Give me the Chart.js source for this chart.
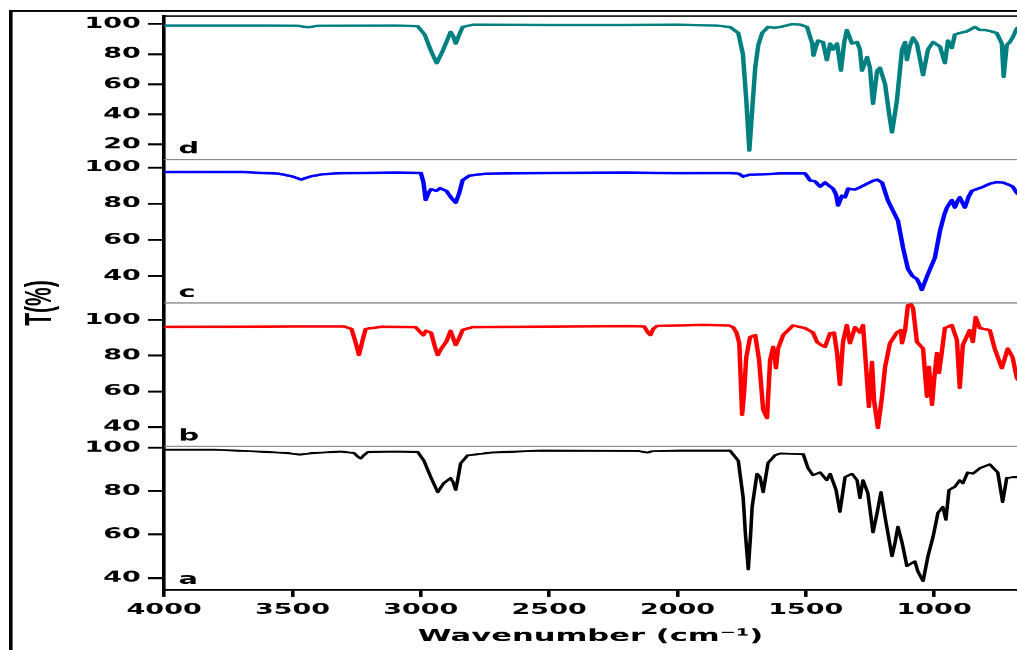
<!DOCTYPE html>
<html>
<head>
<meta charset="utf-8">
<script src="https://cdn.jsdelivr.net/npm/chart.js@4/dist/chart.umd.min.js"></script>
<style>
  html, body { margin: 0; padding: 0; background: #fff; overflow: hidden; }
</style>
</head>
<body>
<!-- the original figure is stretched sideways, so the canvas is drawn narrow and widened -->
<canvas id="ftir" width="565" height="650" style="display:block;width:1017px;height:650px"></canvas>
<script>
// FTIR spectra, wavenumber (cm-1) and transmittance (%)
var waveA = [4000, 3800, 3600, 3520, 3472, 3420, 3311, 3260, 3245, 3234, 3222, 3206, 3100, 3012, 2988, 2961, 2934, 2911, 2895, 2884, 2874, 2864, 2855, 2845, 2818, 2728, 2533, 2300, 2150, 2117, 2100, 1989, 1795, 1763, 1744, 1735, 1724, 1715, 1709, 1690, 1678, 1666, 1647, 1635, 1620, 1600, 1510, 1491, 1472, 1444, 1418, 1405, 1382, 1367, 1347, 1320, 1300, 1289, 1277, 1258, 1238, 1222, 1207, 1191, 1164, 1152, 1141, 1125, 1106, 1075, 1063, 1043, 1024, 1004, 985, 966, 954, 942, 919, 900, 888, 869, 849, 822, 783, 752, 733, 717, 694, 678, 670];
var transA = [99, 99, 98, 97.5, 96.8, 97.5, 98.2, 97.5, 95.8, 95, 96.5, 98, 98.2, 98, 94, 86.4, 79.5, 83.6, 85, 86, 84, 80.5, 86, 92.7, 96.4, 97.7, 98.6, 98.5, 98.4, 97.7, 98.3, 98.6, 98.6, 94, 77, 60, 44, 60, 72.7, 88, 86.4, 79.5, 93, 94.5, 96.5, 97.3, 97, 90.5, 87.3, 88.6, 85, 88, 80.5, 70.5, 86.4, 88, 85, 76.8, 85, 79, 61, 70, 79.5, 68, 50, 56.4, 63.6, 56.4, 45.5, 47.7, 43, 38.6, 50, 59, 70, 72.7, 66.8, 80.5, 82, 85, 83.6, 88.6, 88, 90.5, 92.3, 88.6, 75, 86, 86.4, 86.4, 86];

var waveB = [4000, 3700, 3500, 3300, 3270, 3255, 3241, 3228, 3215, 3150, 3020, 3000, 2990, 2980, 2960, 2945, 2934, 2920, 2900, 2884, 2874, 2864, 2850, 2837, 2800, 2500, 2200, 2130, 2115, 2105, 2095, 2080, 2000, 1900, 1800, 1783, 1770, 1759, 1748, 1740, 1732, 1717, 1697, 1682, 1666, 1651, 1639, 1627, 1616, 1608, 1588, 1550, 1503, 1472, 1456, 1440, 1425, 1405, 1390, 1378, 1367, 1355, 1340, 1328, 1308, 1289, 1277, 1265, 1254, 1242, 1234, 1219, 1203, 1191, 1172, 1145, 1129, 1125, 1113, 1102, 1090, 1082, 1067, 1043, 1028, 1020, 1008, 1000, 989, 981, 970, 958, 931, 911, 900, 888, 861, 849, 838, 822, 783, 764, 736, 713, 694, 678, 670];
var transB = [96.2, 96.3, 96.5, 96.5, 95, 88, 80.4, 88, 95, 96.3, 96, 93, 91.5, 94, 93, 85, 80.4, 84, 88, 94, 90, 86, 90, 94.5, 96, 96.4, 96.6, 96.5, 93, 91.6, 95, 96.7, 97, 97.3, 97, 96, 93, 87, 46.8, 60, 79, 90.5, 91.6, 77.6, 49.6, 45, 77.6, 85, 73, 84, 91.6, 97, 95.5, 93, 87.7, 86, 85, 92.7, 93, 81.5, 63.6, 87.7, 97.2, 87, 96, 93, 97.2, 73.7, 51.3, 76.5, 55, 39.5, 57, 73.7, 87, 93, 94.4, 87, 94.4, 108.4, 108.8, 106.7, 87.7, 84, 57, 73.7, 52.4, 66.4, 81.5, 70.3, 82, 95.5, 97.2, 88.8, 62, 86, 94.4, 87.7, 101.7, 95.5, 94.4, 84, 73, 84, 79, 67.5, 66];

var waveC = [4000, 3700, 3550, 3500, 3467, 3430, 3380, 3311, 3100, 3000, 2990, 2981, 2970, 2960, 2940, 2925, 2900, 2880, 2864, 2850, 2837, 2810, 2750, 2500, 2200, 1989, 1800, 1760, 1744, 1720, 1705, 1600, 1503, 1483, 1464, 1444, 1425, 1410, 1394, 1382, 1374, 1359, 1347, 1335, 1320, 1308, 1289, 1261, 1240, 1222, 1203, 1180, 1160, 1141, 1121, 1102, 1085, 1067, 1055, 1048, 1035, 1024, 997, 977, 960, 950, 931, 919, 910, 900, 880, 865, 853, 834, 814, 783, 760, 733, 710, 694, 678, 670];
var transC = [97.4, 97.5, 96.5, 95, 93.3, 95, 96.3, 96.8, 97.2, 97, 92, 82, 86, 88, 87, 88.5, 87, 83, 80.5, 86, 93, 95.5, 96.5, 97, 97.2, 96.8, 97, 96.5, 95, 96, 96, 96.7, 96.7, 92.8, 92.3, 89.4, 91.7, 90, 88.3, 85, 79, 84.4, 83.5, 88.3, 88, 87.8, 89, 91, 92.5, 93.3, 91.7, 81.7, 76, 70.6, 55.6, 43.9, 40, 38.3, 35, 32.2, 37, 41, 50, 65, 74, 77.8, 82, 77.8, 81, 83.5, 77.8, 84, 87, 88, 89, 91, 91.8, 91.7, 90.5, 89.4, 86, 85];

var waveD = [4000, 3600, 3480, 3440, 3400, 3100, 3012, 2985, 2960, 2938, 2915, 2884, 2874, 2864, 2850, 2837, 2798, 2500, 2200, 2000, 1850, 1795, 1763, 1745, 1732, 1720, 1710, 1697, 1685, 1670, 1647, 1620, 1600, 1550, 1520, 1495, 1475, 1470, 1462, 1452, 1433, 1418, 1405, 1394, 1378, 1363, 1350, 1340, 1320, 1300, 1289, 1281, 1261, 1250, 1238, 1222, 1211, 1191, 1175, 1164, 1145, 1125, 1113, 1106, 1095, 1082, 1067, 1043, 1024, 1004, 977, 958, 946, 931, 919, 900, 873, 841, 822, 800, 775, 756, 736, 729, 717, 705, 694, 678, 670];
var transD = [99, 99, 98.8, 97.8, 98.8, 99, 98.5, 93, 82, 74, 82, 94.7, 92, 87, 93, 98, 99.5, 99.3, 99.3, 99.5, 99, 98, 94, 80, 50, 16, 40, 71, 86, 94, 98, 97.5, 98, 100, 99.5, 98, 87, 79, 84, 89, 88, 76, 87, 83, 87, 69, 88, 96, 87, 88, 83, 69, 78, 71, 47, 69, 71, 60, 40, 28, 49, 83, 88, 76, 85, 91, 87, 66, 83, 88, 85, 74, 89, 84, 93, 94, 95, 98, 96, 96, 95, 94, 87, 65, 86, 88, 91, 97, 98];

var waveTicks = [4000, 3500, 3000, 2500, 2000, 1500, 1000];
var panelLetters = ['a', 'b', 'c', 'd'];
var xTitle = 'Wavenumber (cm\u207B\u00B9)';
var yTitle = 'T(%)';

function pairs(wave, trans) {
  return wave.map(function (w, i) {
    return { x: w, y: trans[i] };
  });
}

var tickFont = { family: 'DejaVu Sans', size: 15, weight: 'bold' };

function panelAxis(min, max) {
  return {
    type: 'linear',
    position: 'left',
    stack: 'ftir',
    stackWeight: 1,
    min: min,
    max: max,
    grid: { drawOnChartArea: false, drawTicks: true, tickLength: 9, lineWidth: 2, color: '#000' },
    border: { display: true, color: '#000', width: 2 },
    ticks: { stepSize: 20, includeBounds: false, autoSkip: false, color: '#000', font: tickFont, padding: 4 },
    afterFit: function (scale) { scale.width = 56; }
  };
}

// separators between the panels, outer frame and panel letters
var panelFrame = {
  id: 'panelFrame',
  beforeDatasetsDraw: function (chart) {
    var ctx = chart.ctx, area = chart.chartArea;
    ctx.save();
    ctx.strokeStyle = '#8a8a8a';
    ctx.lineWidth = 1.2;
    ['yc', 'yb', 'ya'].forEach(function (id) {
      var y = chart.scales[id].top;
      ctx.beginPath();
      ctx.moveTo(area.left, y);
      ctx.lineTo(area.right, y);
      ctx.stroke();
    });
    ctx.restore();
  },
  afterDraw: function (chart) {
    var ctx = chart.ctx, area = chart.chartArea;
    ctx.save();
    ctx.strokeStyle = '#000';
    ctx.lineWidth = 1.5;
    ctx.beginPath();
    ctx.moveTo(area.left, area.top);
    ctx.lineTo(area.right, area.top);
    ctx.stroke();
    ctx.lineWidth = 2;
    ctx.beginPath();
    ctx.moveTo(6, chart.height);
    ctx.lineTo(6, 11);
    ctx.lineTo(chart.width, 11);
    ctx.stroke();
    ctx.fillStyle = '#000';
    ctx.font = 'bold 16px "DejaVu Sans"';
    ctx.textBaseline = 'alphabetic';
    ['ya', 'yb', 'yc', 'yd'].forEach(function (id, i) {
      ctx.fillText(panelLetters[i], area.left + 8, chart.scales[id].bottom - 6);
    });
    ctx.restore();
  }
};

new Chart('ftir', {
  type: 'line',
  data: {
    datasets: [
      { label: 'a', data: pairs(waveA, transA), yAxisID: 'ya', borderColor: '#000000', borderWidth: 2 },
      { label: 'b', data: pairs(waveB, transB), yAxisID: 'yb', borderColor: '#ff0000', borderWidth: 2.5 },
      { label: 'c', data: pairs(waveC, transC), yAxisID: 'yc', borderColor: '#0000ff', borderWidth: 2.5 },
      { label: 'd', data: pairs(waveD, transD), yAxisID: 'yd', borderColor: '#008080', borderWidth: 2.5 }
    ]
  },
  options: {
    responsive: false,
    animation: false,
    devicePixelRatio: 1.8,
    layout: { padding: { top: 16, left: 0, right: 0, bottom: 0 } },
    elements: {
      point: { radius: 0 },
      line: { tension: 0, borderJoinStyle: 'round', fill: false }
    },
    plugins: {
      legend: { display: false },
      tooltip: { enabled: false },
      title: {
        display: true,
        position: 'left',
        fullSize: false,
        text: yTitle,
        color: '#000',
        font: { family: 'Liberation Sans', size: 21, weight: 'bold' },
        padding: { top: 10, bottom: 0 }
      }
    },
    scales: {
      x: {
        type: 'linear',
        position: 'bottom',
        reverse: true,
        min: 677,
        max: 4000,
        grid: { drawOnChartArea: false, drawTicks: true, tickLength: 7, lineWidth: 2, color: '#000' },
        border: { display: true, color: '#000', width: 2 },
        afterBuildTicks: function (scale) {
          scale.ticks = waveTicks.map(function (v) { return { value: v }; });
        },
        ticks: {
          autoSkip: false, color: '#000', font: tickFont, padding: 4, maxRotation: 0,
          callback: function (v) { return String(v); }
        },
        title: {
          display: true,
          text: xTitle,
          color: '#000',
          font: { family: 'DejaVu Sans', size: 17, weight: 'bold' },
          padding: { top: 2, bottom: 3 }
        },
        afterFit: function (scale) { scale.height = 60; }
      },
      ya: panelAxis(34.5, 100.5),
      yb: panelAxis(29, 109.6),
      yc: panelAxis(25, 104.4),
      yd: panelAxis(10, 105.3)
    }
  },
  plugins: [panelFrame]
});
</script>
</body>
</html>
